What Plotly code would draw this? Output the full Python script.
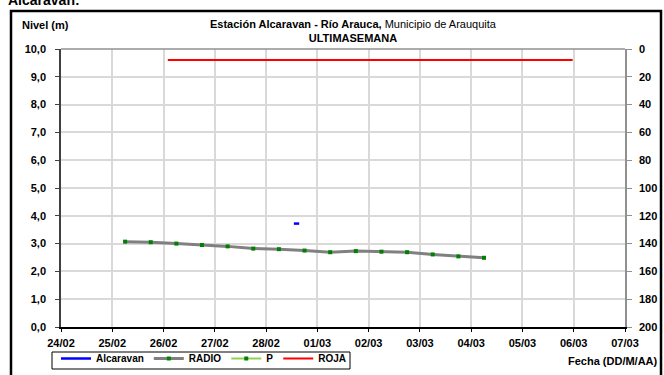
import plotly.graph_objects as go

# ---- data ----
radio_dates = [
    "2023-02-25 06:00", "2023-02-25 18:00", "2023-02-26 06:00", "2023-02-26 18:00",
    "2023-02-27 06:00", "2023-02-27 18:00", "2023-02-28 06:00", "2023-02-28 18:00",
    "2023-03-01 06:00", "2023-03-01 18:00", "2023-03-02 06:00", "2023-03-02 18:00",
    "2023-03-03 06:00", "2023-03-03 18:00", "2023-03-04 06:00",
]
radio_values = [3.07, 3.05, 3.00, 2.95, 2.90, 2.82, 2.80, 2.75, 2.69, 2.73, 2.71, 2.69, 2.61, 2.54, 2.49]

alcaravan_dates = ["2023-02-28 13:00", "2023-02-28 15:30"]
alcaravan_values = [3.72, 3.72]

roja_dates = ["2023-02-26 02:00", "2023-03-05 23:30"]
roja_values = [9.6, 9.6]

p_dates = ["2023-02-25 06:00"]
p_values = [None]

x_range = ["2023-02-24", "2023-03-07"]
y_ticks = [0, 1, 2, 3, 4, 5, 6, 7, 8, 9, 10]
y2_ticks = [0, 20, 40, 60, 80, 100, 120, 140, 160, 180, 200]

FONT = "Liberation Sans, Arial, sans-serif"

fig = go.Figure()
fig.add_trace(go.Scatter(x=alcaravan_dates, y=alcaravan_values, name="Alcaravan",
                         mode="lines", line=dict(color="#0000ff", width=2.5)))
fig.add_trace(go.Scatter(x=radio_dates, y=radio_values, name="RADIO",
                         mode="lines+markers", line=dict(color="#808080", width=3),
                         marker=dict(color="#008000", size=4, symbol="square")))
fig.add_trace(go.Scatter(x=p_dates, y=p_values, name="P", yaxis="y2",
                         mode="lines+markers", line=dict(color="#92d050", width=2),
                         marker=dict(color="#008000", size=4, symbol="square")))
fig.add_trace(go.Scatter(x=roja_dates, y=roja_values, name="ROJA",
                         mode="lines", line=dict(color="#ff0000", width=2)))

L, R, T, B = 61, 39, 49, 48
W, H = 664, 375
pw, ph = W - L - R, H - T - B


def px(xp):
    return (xp - L) / pw


def py(yp):
    return (H - B - yp) / ph


fig.update_layout(
    width=W, height=H,
    margin=dict(l=L, r=R, t=T, b=B, autoexpand=False),
    paper_bgcolor="white", plot_bgcolor="white",
    separators=",.",
    font=dict(family=FONT, size=11, color="black"),
    showlegend=True,
    legend=dict(orientation="h", x=px(56), y=py(344), xanchor="left", yanchor="top",
                borderwidth=0, bgcolor="rgba(0,0,0,0)",
                font=dict(family=FONT, size=10, weight="bold", color="black"),
                itemwidth=30),
    xaxis=dict(type="date", range=x_range, dtick=86400000, tick0=x_range[0],
               tickformat="%d/%m", showgrid=True, gridcolor="#d9d9d9", gridwidth=1.5,
               showline=True, linecolor="black", linewidth=1.5, mirror=False,
               ticks="outside", ticklen=3, tickcolor="black", ticklabelstandoff=2,
               tickfont=dict(family=FONT, size=11, weight="bold", color="black"), zeroline=False),
    yaxis=dict(range=[0, 10], tickvals=y_ticks, tickformat=".1f",
               showgrid=True, gridcolor="#d9d9d9", gridwidth=1.5,
               showline=True, linecolor="#404040", linewidth=1.5,
               ticks="outside", ticklen=4, tickcolor="#404040", ticklabelstandoff=7,
               tickfont=dict(family=FONT, size=11, weight="bold", color="black"), zeroline=False),
    yaxis2=dict(range=[200, 0], tickvals=y2_ticks, overlaying="y", side="right",
                showgrid=False, showline=True, linecolor="#909090", linewidth=1.5,
                ticks="outside", ticklen=5, tickcolor="#909090", ticklabelstandoff=5,
                tickfont=dict(family=FONT, size=11, weight="bold", color="black"), zeroline=False),
)

# top border of plot area (gray)
fig.add_shape(type="line", xref="paper", yref="paper", x0=0, x1=1, y0=1, y1=1,
              line=dict(color="#909090", width=1.5))
# outer frame
fig.add_shape(type="rect", xref="paper", yref="paper",
              x0=px(11), x1=px(661), y0=py(11), y1=py(390),
              line=dict(color="black", width=2.5))
# legend frame
fig.add_shape(type="rect", xref="paper", yref="paper",
              x0=px(52), x1=px(350), y0=py(352), y1=py(369),
              line=dict(color="black", width=1))

fig.add_annotation(xref="paper", yref="paper", x=px(354), y=py(31), xanchor="center", yanchor="middle",
                   text="<b>Estación Alcaravan - Río Arauca,</b> Municipio de Arauquita<br><b>ULTIMASEMANA</b>",
                   showarrow=False, font=dict(family=FONT, size=11, color="black"))
fig.add_annotation(xref="paper", yref="paper", x=px(20), y=py(25), xanchor="left", yanchor="middle",
                   text="<b>Nivel (m)</b>", showarrow=False, font=dict(family=FONT, size=11, color="black"))
fig.add_annotation(xref="paper", yref="paper", x=px(660), y=py(361), xanchor="right", yanchor="middle",
                   text="<b>Fecha (DD/M/AA)</b>", showarrow=False, font=dict(family=FONT, size=11, color="black"))
fig.add_annotation(xref="paper", yref="paper", x=px(6), y=py(10), xanchor="left", yanchor="bottom",
                   text="<b>Alcaravan:</b>", showarrow=False, font=dict(family=FONT, size=14, color="black"))

fig.write_html("out.html", config={"displayModeBar": False},
               post_script="document.body.style.margin='0';")
